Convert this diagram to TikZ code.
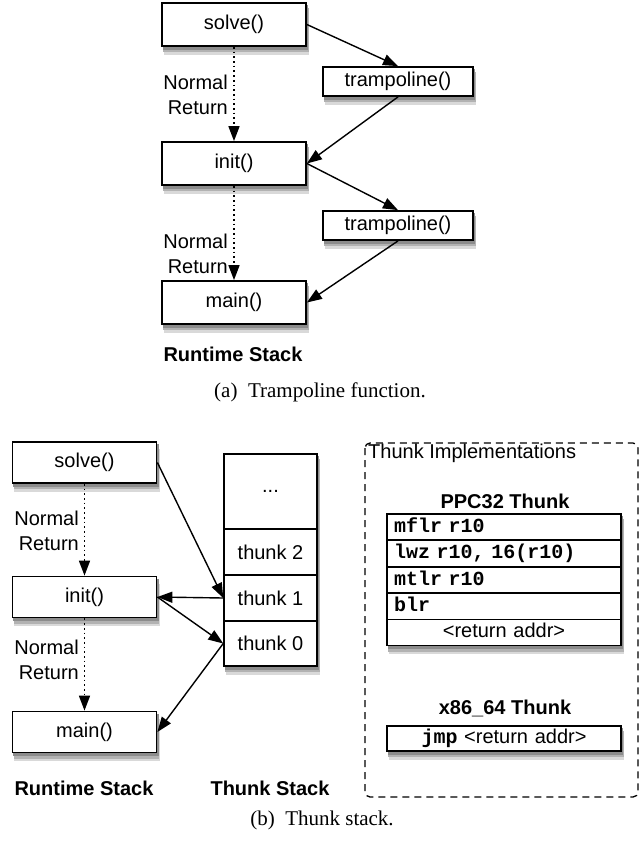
\documentclass[tikz,border=0pt]{standalone}
\usepackage{fontspec}
\setmainfont{Liberation Serif}
\setsansfont{Liberation Sans}
\setmonofont{Liberation Mono}
\usetikzlibrary{arrows.meta}
\pgfdeclarelayer{shadowlayer}
\pgfsetlayers{shadowlayer,main}

\begin{document}
\begin{tikzpicture}[
    x=1pt, y=-1pt,
    font=\sffamily\fontsize{20}{25}\selectfont,
    >={Triangle[length=15pt,width=11pt]},
    fn/.style={draw, line width=1.8pt, fill=white, minimum width=144pt, minimum height=43pt, inner sep=0pt},
    tramp/.style={draw, line width=1.8pt, fill=white, minimum width=150pt, minimum height=29pt, inner sep=0pt},
    cell/.style={draw, line width=1.5pt, fill=white, minimum width=93pt, inner sep=0pt},
    row/.style={draw, line width=1.5pt, fill=white, minimum width=234pt, minimum height=26pt, text width=220pt, inner xsep=7pt, inner ysep=0pt, text height=14pt, text depth=4pt},
    call/.style={->, line width=1.4pt},
    ret/.style={->, line width=1.7pt, dash pattern=on 1.7pt off 3pt},
    lbl/.style={align=right, anchor=east, inner sep=0pt},
    title/.style={font=\sffamily\bfseries\fontsize{20}{25}\selectfont},
    capt/.style={font=\rmfamily\fontsize{21}{25}\selectfont}
]
    \useasboundingbox (0,0) rectangle (644,844);

    % (a) trampoline function
    \node[fn] (solveA) at (234,24.5) {solve()};
    \node[tramp] (trampA1) at (398,81.5) {trampoline()};
    \node[fn] (initA) at (234,163.5) {init()};
    \node[tramp] (trampA2) at (398,225.5) {trampoline()};
    \node[fn] (mainA) at (234,302.5) {main()};

    \draw[ret] (solveA) -- (initA);
    \draw[ret] (initA) -- (mainA);
    \node[lbl] (retA1) at (228,94.5) {Normal\\Return};
    \node[lbl] (retA2) at (228,254) {Normal\\Return};

    \draw[call] (solveA.east) -- (trampA1.north);
    \draw[call] (trampA1.south) -- (initA.east);
    \draw[call] (initA.east) -- (trampA2.north);
    \draw[call] (trampA2.south) -- (mainA.east);

    \node[title] (rtA) at (233,354) {Runtime Stack};
    \node[capt] (capA) at (320,392) {(a)\ \ Trampoline function.};

    % (b) thunk stack
    \node[fn, minimum height=41pt] (solveB) at (84.5,462.5) {solve()};
    \node[fn, minimum height=41pt] (initB) at (84.5,597) {init()};
    \node[fn, minimum height=41pt] (mainB) at (84.5,732) {main()};

    \draw[ret] (solveB) -- (initB);
    \draw[ret] (initB) -- (mainB);
    \node[lbl] (retB1) at (79,530.5) {Normal\\Return};
    \node[lbl] (retB2) at (79,660) {Normal\\Return};

    \node[cell, minimum height=75pt] (more) at (270.5,491.5) {...};
    \node[cell, minimum height=46pt] (th2) at (270.5,552) {thunk 2};
    \node[cell, minimum height=46pt] (th1) at (270.5,598) {thunk 1};
    \node[cell, minimum height=45pt] (th0) at (270.5,643.5) {thunk 0};

    \draw[call] (solveB.east) -- (th1.west);
    \draw[call] (th1.west) -- (initB.east);
    \draw[call] (initB.east) -- (th0.west);
    \draw[call] (th0.west) -- (mainB.east);

    \node[title] (rtB) at (84,788) {Runtime Stack};
    \node[title] (tsB) at (270,788) {Thunk Stack};

    % thunk implementations
    \draw[line width=1.3pt, dash pattern=on 7pt off 5pt, rounded corners=5pt] (365,443) rectangle (638,797);
    \node[anchor=west, inner sep=0pt] (impl) at (368,453) {Thunk Implementations};

    \node[title] (ppc) at (505,501) {PPC32 Thunk};
    \node[row] (ppc1) at (504,527) {\ttfamily\bfseries mflr r10};
    \node[row] (ppc2) at (504,553.5) {\ttfamily\bfseries lwz r10, 16(r10)};
    \node[row] (ppc3) at (504,580) {\ttfamily\bfseries mtlr r10};
    \node[row] (ppc4) at (504,606.5) {\ttfamily\bfseries blr};
    \node[row, align=center] (ppc5) at (504,632.5) {<return addr>};

    \node[title] (x86) at (505,708) {x86\_64 Thunk};
    \node[row, align=center, minimum height=25pt] (jmp) at (504,738.5) {{\ttfamily\bfseries jmp} <return addr>};

    \node[capt] (capB) at (322,820) {(b)\ \ Thunk stack.};

    % soft shadows behind the boxes
    \begin{pgfonlayer}{shadowlayer}
        \foreach \b in {solveA,trampA1,initA,trampA2,mainA,solveB,initB,mainB,more,th2,th1,th0,ppc1,ppc2,ppc3,ppc4,ppc5,jmp} {
            \fill[black!15] ([shift={(2.5pt,-8pt)}]\b.south west) rectangle ([shift={(2.5pt,-8pt)}]\b.north east);
            \fill[black!30] ([shift={(2pt,-5.5pt)}]\b.south west) rectangle ([shift={(2pt,-5.5pt)}]\b.north east);
            \fill[black!45] ([shift={(1.5pt,-3pt)}]\b.south west) rectangle ([shift={(1.5pt,-3pt)}]\b.north east);
        }
    \end{pgfonlayer}
\end{tikzpicture}
\end{document}
